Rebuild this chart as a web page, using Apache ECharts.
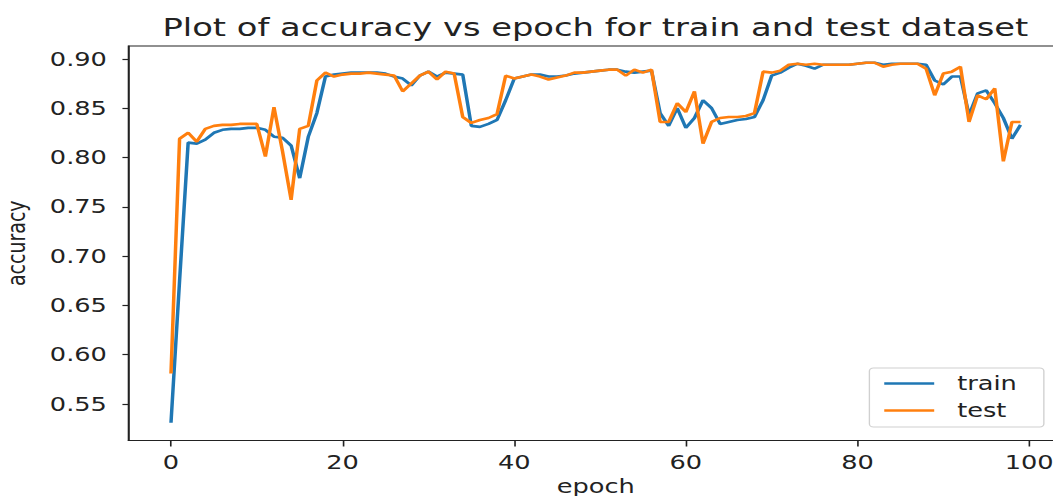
<!DOCTYPE html>
<html>
<head>
<meta charset="utf-8">
<script src="https://cdn.jsdelivr.net/npm/echarts@6/dist/echarts.min.js"></script>
<style>
  html, body { margin: 0; padding: 0; background: #fff; overflow: hidden; width: 1053px; height: 496px; }
  /* the source figure is stretched sideways, so the chart is drawn narrow and widened */
  #main { width: 882px; height: 496px; transform: scaleX(1.35); transform-origin: 0 0; }
</style>
</head>
<body>
<div id="main"></div>
<script>
// accuracy per epoch
const trainAcc = [
  0.531, 0.675, 0.815, 0.814, 0.818, 0.825, 0.828, 0.829, 0.829, 0.830,
  0.830, 0.828, 0.821, 0.820, 0.812, 0.779, 0.821, 0.845, 0.882, 0.884,
  0.885, 0.886, 0.886, 0.886, 0.886, 0.885, 0.882, 0.880, 0.873, 0.883,
  0.887, 0.882, 0.886, 0.885, 0.884, 0.832, 0.831, 0.834, 0.838, 0.858,
  0.880, 0.882, 0.884, 0.884, 0.882, 0.882, 0.883, 0.885, 0.886, 0.887,
  0.888, 0.889, 0.889, 0.887, 0.886, 0.887, 0.888, 0.845, 0.832, 0.850,
  0.830, 0.840, 0.858, 0.850, 0.834, 0.836, 0.838, 0.839, 0.841, 0.858,
  0.883, 0.886, 0.891, 0.895, 0.893, 0.890, 0.894, 0.894, 0.894, 0.894,
  0.895, 0.896, 0.896, 0.894, 0.895, 0.895, 0.895, 0.895, 0.894, 0.878,
  0.874, 0.882, 0.882, 0.843, 0.865, 0.868, 0.855, 0.840, 0.819, 0.833
]
const testAcc = [
  0.581, 0.819, 0.825, 0.816, 0.829, 0.832, 0.833, 0.833, 0.834, 0.834,
  0.834, 0.801, 0.851, 0.806, 0.757, 0.829, 0.832, 0.878, 0.886, 0.882,
  0.884, 0.885, 0.885, 0.886, 0.885, 0.884, 0.883, 0.867, 0.875, 0.883,
  0.887, 0.879, 0.887, 0.885, 0.841, 0.835, 0.838, 0.840, 0.844, 0.883,
  0.880, 0.882, 0.884, 0.882, 0.879, 0.881, 0.883, 0.886, 0.886, 0.887,
  0.888, 0.889, 0.889, 0.883, 0.889, 0.886, 0.889, 0.836, 0.836, 0.855,
  0.846, 0.867, 0.814, 0.836, 0.840, 0.841, 0.841, 0.842, 0.845, 0.887,
  0.886, 0.888, 0.894, 0.895, 0.894, 0.895, 0.894, 0.894, 0.894, 0.894,
  0.895, 0.896, 0.896, 0.892, 0.894, 0.895, 0.895, 0.895, 0.890, 0.863,
  0.885, 0.887, 0.892, 0.836, 0.863, 0.859, 0.870, 0.796, 0.836, 0.836
]
const epochs = trainAcc.map((v, i) => i)

const xTicks = [0, 20, 40, 60, 80, 100]
const yTicks = [0.55, 0.60, 0.65, 0.70, 0.75, 0.80, 0.85, 0.90]

const font = 'DejaVu Sans'
const ink = '#222'

const chart = echarts.init(document.getElementById('main'), null, { renderer: 'svg' })

chart.setOption({
  animation: false,
  color: ['#1f77b4', '#ff7f0e'],
  title: {
    text: 'Plot of accuracy vs epoch for train and test dataset',
    left: 'center',
    top: 10,
    textStyle: { fontFamily: font, fontSize: 25, fontWeight: 'normal', color: ink }
  },
  legend: {
    data: ['train', 'test'],
    orient: 'vertical',
    left: 644,
    top: 368,
    icon: 'rect',
    itemWidth: 37,
    itemHeight: 2.5,
    itemGap: 8,
    padding: [6, 20, 7, 11],
    backgroundColor: 'rgba(255,255,255,0.8)',
    borderColor: '#d0d0d0',
    borderWidth: 1,
    borderRadius: 3,
    textStyle: { fontFamily: font, fontSize: 19, color: ink, padding: [0, 0, 0, 12] }
  },
  grid: {
    left: 95.2,
    top: 46,
    width: 692.2,
    bottom: 55.5,
    outerBoundsMode: 'none',
    containLabel: false,
    show: true,
    borderColor: ink,
    borderWidth: 1.2,
    backgroundColor: 'transparent'
  },
  xAxis: {
    type: 'value',
    min: -4.95,
    max: 103.95,
    name: 'epoch',
    nameLocation: 'middle',
    nameGap: 34,
    nameTextStyle: { fontFamily: font, fontSize: 19, color: ink },
    axisLine: { onZero: false, lineStyle: { color: ink, width: 1.2 } },
    axisTick: { show: true, length: 6, customValues: xTicks, lineStyle: { color: ink, width: 1.2 } },
    axisLabel: {
      customValues: xTicks,
      margin: 12,
      fontFamily: font,
      fontSize: 19,
      color: ink
    },
    splitLine: { show: false }
  },
  yAxis: {
    type: 'value',
    min: 0.513,
    max: 0.913,
    name: 'accuracy',
    nameLocation: 'middle',
    nameGap: 74,
    nameTextStyle: { fontFamily: font, fontSize: 19, color: ink },
    axisLine: { show: true, onZero: false, lineStyle: { color: ink, width: 1.2 } },
    axisTick: { show: true, length: 4.5, customValues: yTicks, lineStyle: { color: ink, width: 1.2 } },
    axisLabel: {
      customValues: yTicks,
      margin: 16,
      fontFamily: font,
      fontSize: 19,
      color: ink,
      formatter: v => v.toFixed(2)
    },
    splitLine: { show: false }
  },
  series: [
    {
      name: 'train',
      type: 'line',
      symbol: 'none',
      lineStyle: { width: 2.6 },
      data: epochs.map((e, i) => [e, trainAcc[i]])
    },
    {
      name: 'test',
      type: 'line',
      symbol: 'none',
      lineStyle: { width: 2.6 },
      data: epochs.map((e, i) => [e, testAcc[i]])
    }
  ]
})
</script>
</body>
</html>
